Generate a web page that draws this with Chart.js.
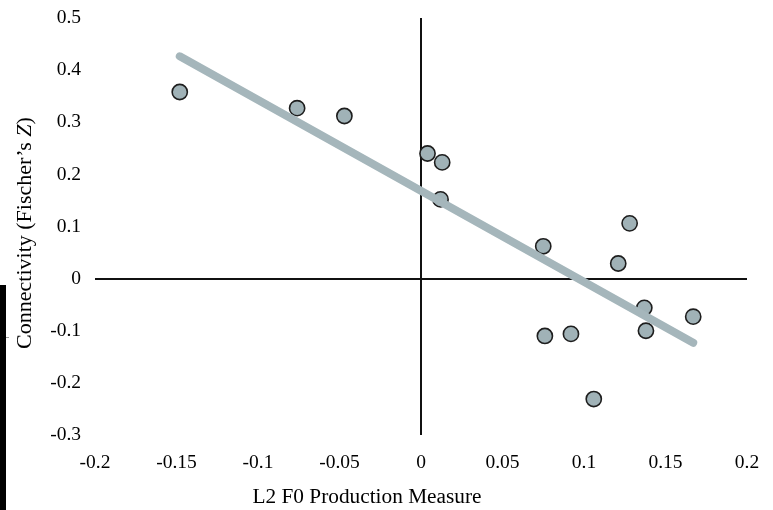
<!DOCTYPE html>
<html>
<head>
<meta charset="utf-8">
<title>L2 F0 production vs connectivity</title>
<script src="https://cdn.jsdelivr.net/npm/chart.js@4.4.1/dist/chart.umd.min.js"></script>
<style>
  html, body { margin: 0; padding: 0; background: #fff; }
  #wrap { position: relative; width: 773px; height: 510px; }
  #edge { position: absolute; left: 0; top: 285px; width: 6px; height: 225px; background: #000; }
  #edgeMark { position: absolute; left: 6px; top: 337px; width: 3px; height: 1px; background: #999; }
</style>
</head>
<body>
<div id="wrap">
  <canvas id="chart" width="773" height="510"></canvas>
  <div id="edge"></div>
  <div id="edgeMark"></div>
</div>
<script>
// participants: F0 production measure vs connectivity (Fischer's Z)
const f0Measure = [-0.148, -0.076, -0.047, 0.004, 0.013, 0.012, 0.075, 0.128, 0.121, 0.137, 0.167, 0.138, 0.076, 0.092, 0.106];
const connectivity = [0.358, 0.327, 0.312, 0.240, 0.223, 0.152, 0.062, 0.106, 0.029, -0.056, -0.073, -0.100, -0.110, -0.106, -0.231];

const xTickLabels = ['-0.2', '-0.15', '-0.1', '-0.05', '0', '0.05', '0.1', '0.15', '0.2'];
const yTickLabels = ['-0.3', '-0.2', '-0.1', '0', '0.1', '0.2', '0.3', '0.4', '0.5'];

const FONT = "'Liberation Serif', 'Times New Roman', serif";

// least squares fit for the trend line
const n = f0Measure.length;
const meanX = f0Measure.reduce((a, b) => a + b, 0) / n;
const meanY = connectivity.reduce((a, b) => a + b, 0) / n;
let sxy = 0, sxx = 0;
for (let i = 0; i < n; i++) {
  sxy += (f0Measure[i] - meanX) * (connectivity[i] - meanY);
  sxx += (f0Measure[i] - meanX) ** 2;
}
const slope = sxy / sxx;
const intercept = meanY - slope * meanX;
const xMin = Math.min(...f0Measure);
const xMax = Math.max(...f0Measure);
const trend = [
  { x: xMin, y: intercept + slope * xMin },
  { x: xMax, y: intercept + slope * xMax },
];

const points = f0Measure.map((x, i) => ({ x, y: connectivity[i] }));

// axis titles sit off-centre, so they are drawn by hand
const axisTitles = {
  id: 'axisTitles',
  afterDraw(chart) {
    const ctx = chart.ctx;
    ctx.save();
    ctx.fillStyle = '#000';
    ctx.textBaseline = 'middle';
    ctx.font = `21.3px ${FONT}`;
    ctx.textAlign = 'center';
    ctx.fillText('L2 F0 Production Measure', 367, 497);

    const size = 22;
    ctx.translate(25, 233);
    ctx.rotate(-Math.PI / 2);
    const head = 'Connectivity (Fischer\u2019s ';
    const tail = ')';
    ctx.font = `${size}px ${FONT}`;
    const wHead = ctx.measureText(head).width;
    const wTail = ctx.measureText(tail).width;
    ctx.font = `italic ${size}px ${FONT}`;
    const wZ = ctx.measureText('Z').width;
    let x = -(wHead + wZ + wTail) / 2;
    ctx.textAlign = 'left';
    ctx.font = `${size}px ${FONT}`;
    ctx.fillText(head, x, 0);
    x += wHead;
    ctx.font = `italic ${size}px ${FONT}`;
    ctx.fillText('Z', x, 0);
    x += wZ;
    ctx.font = `${size}px ${FONT}`;
    ctx.fillText(tail, x, 0);
    ctx.restore();
  }
};

const zeroLine = (ctx) => (Math.abs(ctx.tick.value) < 1e-9 ? '#111' : 'rgba(0,0,0,0)');

new Chart(document.getElementById('chart'), {
  type: 'scatter',
  data: {
    datasets: [
      {
        type: 'line',
        data: trend,
        borderColor: '#a5b6bb',
        borderWidth: 8,
        borderCapStyle: 'round',
        pointRadius: 0,
        fill: false,
        order: 0,
      },
      {
        data: points,
        backgroundColor: '#a0b2b7',
        borderColor: '#1e1e1e',
        borderWidth: 1.6,
        pointRadius: 7.6,
        pointHoverRadius: 7.6,
        order: 1,
      },
    ],
  },
  options: {
    responsive: false,
    animation: false,
    layout: { padding: { top: 18, right: 26, left: 0, bottom: 0 } },
    plugins: {
      legend: { display: false },
      tooltip: { enabled: false },
    },
    scales: {
      x: {
        type: 'linear',
        min: -0.2,
        max: 0.2,
        afterFit: (scale) => {
          scale.height = 75;
          scale.paddingLeft = 0;
          scale.paddingRight = 0;
        },
        border: { display: false },
        grid: { color: zeroLine, lineWidth: 2, drawTicks: false },
        ticks: {
          stepSize: 0.05,
          padding: 16,
          color: '#000',
          font: { family: FONT, size: 19.5 },
          callback: (v, i) => xTickLabels[i],
        },
      },
      y: {
        type: 'linear',
        min: -0.3,
        max: 0.5,
        afterFit: (scale) => {
          scale.width = 95;
          scale.paddingTop = 0;
          scale.paddingBottom = 0;
        },
        border: { display: false },
        grid: { color: zeroLine, lineWidth: 2, drawTicks: false },
        ticks: {
          stepSize: 0.1,
          padding: 14,
          color: '#000',
          font: { family: FONT, size: 19.5 },
          callback: (v, i) => yTickLabels[i],
        },
      },
    },
  },
  plugins: [axisTitles],
});
</script>
</body>
</html>
